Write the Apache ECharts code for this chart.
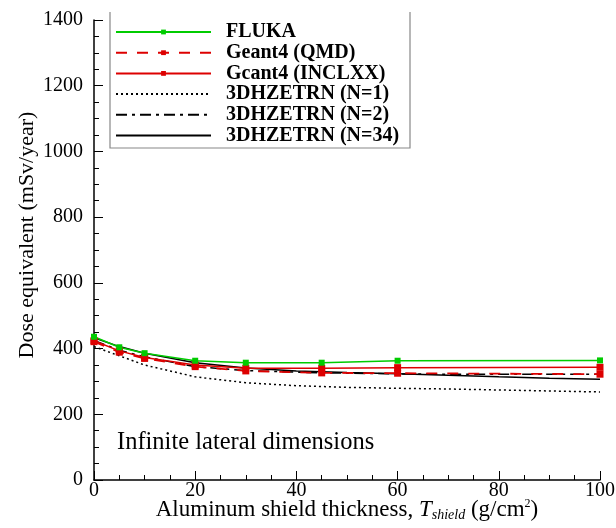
<!DOCTYPE html>
<html><head><meta charset="utf-8">
<script src="https://cdn.jsdelivr.net/npm/echarts@6/dist/echarts.min.js"></script>
<style>html,body{margin:0;padding:0;background:#fff}#c{width:616px;height:528px}</style>
</head><body><div id="c"></div>
<script>
const xFluka = [0,5,10,20,30,45,60,100];
const fluka = [436,404,386,363,357,357,363,364];
const xG4 = [0,5,10,20,30,45,60,100];
const g4qmd = [421,389,370,345,332,326,325,322];
const g4incl = [424,393,373,350,340,340,342,343];
const xHz = [0,5,10,20,30,40,50,60,70,80,90,100];
const hzN1 = [406,378,350,314,296,287,282,279,277,274,271,268];
const hzN2 = [425,395,375,345,333,328,325,323,322,322,322,322];
const hzN34 = [433,406,386,357,341,332,327,323,319,314,310,307];
const yTicks = [0,200,400,600,800,1000,1200,1400];
const xTicks = [0,20,40,60,80,100];

const pair = (xs, ys) => xs.map((x,i)=>[x,ys[i]]);
const font = '"Liberation Serif","Times New Roman",serif';
const chart = echarts.init(document.getElementById('c'), null, {renderer:'canvas'});
chart.setOption({
  animation:false,
  backgroundColor:'#fff',
  grid:{left:94,right:16,top:20,bottom:48,show:false,containLabel:false,outerBoundsMode:'none'},
  xAxis:{type:'value',min:0,max:100,interval:20,
    axisLine:{show:true,lineStyle:{color:'#000',width:1.5}},
    axisTick:{show:true,inside:true,length:9,lineStyle:{color:'#000',width:1}},
    minorTick:{show:true,splitNumber:4,length:5,lineStyle:{color:'#000',width:1}},
    splitLine:{show:false},
    axisLabel:{color:'#000',fontFamily:font,fontSize:20,margin:1,
      formatter:v=>xTicks.includes(v)?String(v):''},
    name:'{n|Aluminum shield thickness, }{t|T}{s|shield}{n| (g/cm}{p|2}{n|)}',
    nameLocation:'middle',nameGap:18,nameMoveOverlap:false,
    nameTextStyle:{rich:{
      n:{fontFamily:font,fontSize:23,color:'#000'},
      t:{fontFamily:font,fontSize:23,fontStyle:'italic',color:'#000'},
      s:{fontFamily:font,fontSize:14,fontStyle:'italic',color:'#000',verticalAlign:'bottom',padding:[10,0,0,0]},
      p:{fontFamily:font,fontSize:12,color:'#000',verticalAlign:'top',padding:[0,0,10,0]}
    }}
  },
  yAxis:{type:'value',min:0,max:1400,interval:200,
    axisLine:{show:true,lineStyle:{color:'#000',width:1.5}},
    axisTick:{show:true,inside:true,length:9,lineStyle:{color:'#000',width:1}},
    minorTick:{show:true,splitNumber:4,length:5,lineStyle:{color:'#000',width:1}},
    splitLine:{show:false},
    axisLabel:{color:'#000',fontFamily:font,fontSize:20,margin:11,
      formatter:v=>yTicks.includes(v)?String(v):''},
    name:'Dose equivalent (mSv/year)',nameLocation:'middle',nameGap:56,nameMoveOverlap:false,
    nameTextStyle:{fontFamily:font,fontSize:22,color:'#000',padding:[0,0,0,30]}
  },
  legend:{orient:'vertical',left:110,top:12,itemWidth:95,itemHeight:6,itemGap:0.7,
    padding:[10,0,0,5],
    textStyle:{fontFamily:font,fontSize:20,lineHeight:20,fontWeight:'bold',color:'#000',padding:[0,0,0,10]},
    data:[
      {name:'FLUKA'},{name:'Geant4 (QMD)'},{name:'Gcant4 (INCLXX)'},
      {name:'3DHZETRN (N=1)',itemStyle:{opacity:0}},
      {name:'3DHZETRN (N=2)',itemStyle:{opacity:0}},
      {name:'3DHZETRN (N=34)',itemStyle:{opacity:0}}
    ]
  },
  graphic:[
    {type:'polyline',z:-1,shape:{points:[[110,12],[110,148],[410,148],[410,12]]},
      style:{stroke:'#888',lineWidth:1.2,fill:'#fff'}},
    {type:'text',left:117,top:430,style:{text:'Infinite lateral dimensions',fontFamily:font,fontSize:24.5,fill:'#000'}}
  ],
  series:[
    {name:'3DHZETRN (N=1)',type:'line',data:pair(xHz,hzN1),symbol:'none',
      lineStyle:{color:'#000',width:1.5,type:[2,3]},itemStyle:{color:'#000'}},
    {name:'3DHZETRN (N=2)',type:'line',data:pair(xHz,hzN2),symbol:'none',
      lineStyle:{color:'#000',width:1.5,type:[11,5,3,5]},itemStyle:{color:'#000'}},
    {name:'3DHZETRN (N=34)',type:'line',data:pair(xHz,hzN34),symbol:'none',
      lineStyle:{color:'#000',width:1.5},itemStyle:{color:'#000'}},
    {name:'Geant4 (QMD)',type:'line',data:pair(xG4,g4qmd),symbol:'rect',symbolSize:7,
      lineStyle:{color:'#dd0000',width:1.8,type:[11,10]},itemStyle:{color:'#dd0000'}},
    {name:'Gcant4 (INCLXX)',type:'line',data:pair(xG4,g4incl),symbol:'rect',symbolSize:7,
      lineStyle:{color:'#dd0000',width:1.5},itemStyle:{color:'#dd0000'}},
    {name:'FLUKA',type:'line',data:pair(xFluka,fluka),symbol:'rect',symbolSize:6,
      lineStyle:{color:'#00cc00',width:1.5},itemStyle:{color:'#00cc00'}}
  ]
});
</script></body></html>
